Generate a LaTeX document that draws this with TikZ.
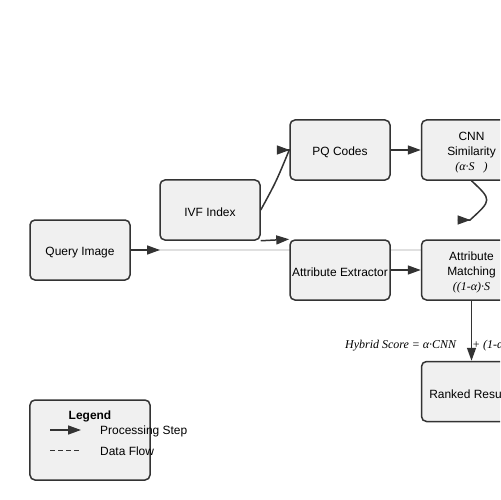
\documentclass[tikz,border=0pt]{standalone}
\usepackage{fontspec}
\setmainfont{Liberation Sans}
\newfontfamily\serifital{Liberation Serif}
\usetikzlibrary{arrows.meta, positioning, backgrounds}
\definecolor{boxgray}{RGB}{240,240,240}
\definecolor{edgegray}{RGB}{51,51,51}
\definecolor{flowgray}{RGB}{224,224,224}
\newcommand{\frm}[1]{{\serifital\itshape #1}}
\newcommand{\tall}{\rule{0pt}{13.5bp}}

\begin{document}
\begin{tikzpicture}[
        x=1bp, y=-1bp,
        node distance=30bp,
        font=\fontsize{12}{15}\selectfont,
        box/.style={rectangle, draw=edgegray, fill=boxgray, line width=1.5bp, rounded corners=5bp, minimum width=100bp, minimum height=60bp, inner xsep=1bp, align=center},
        arr/.style={-{Triangle[length=13bp, width=9bp]}, line width=1.5bp, edgegray},
        plain/.style={anchor=west, inner sep=0pt}
    ]
        \clip (0,0) rectangle (500,500);

        \node[box] (query) at (80,250) {\tall Query Image};
        \node[box] (ivf) at (210,210) {\tall IVF Index};
        \node[box] (pq) at (340,150) {\tall PQ Codes};
        \node[box, right=of pq] (cnn) {\tall CNN\\Similarity\\\frm{(α·S\hspace{9bp})}};
        \node[box] (extract) at (340,270) {\tall Attribute Extractor};
        \node[box, right=of extract] (match) {\tall Attribute\\Matching\\\frm{((1-α)·S}};
        \node[box, below=60bp of match] (ranked) {\tall Ranked Results};

        % data flow under the boxes
        \begin{scope}[on background layer]
            \fill[white] (0,0) rectangle (500,500);
            \draw[flowgray, line width=1.5bp] (query.east) -- (query.east -| match.west);
        \end{scope}

        \coordinate (qtip) at (160,250);
        \coordinate (cnnend) at (470,220);

        \draw[arr] (query.east) -- (qtip);
        \draw[arr] (ivf.east) .. controls (276,182) .. (pq.west) -- ++(0.5,0);
        \draw[arr] (ivf.south east) -- (extract.north west);
        \draw[arr] (pq) -- (cnn);
        \draw[arr] (extract) -- (match);
        \draw[arr] (cnn.south) .. controls (492,200) .. (cnnend) -- ++(0.5,0);
        \draw[arr] (match) -- (ranked);

        \node[plain, font=\serifital\itshape\fontsize{12}{15}\selectfont] (hybrid) at (345,346) {Hybrid Score = α·CNN\hspace{16bp}+ (1-α)·Attr\hspace{16bp}};

        % legend
        \node[box, minimum width=120bp, minimum height=80bp] (legend) at (90,440) {};
        \node[font=\bfseries\fontsize{12}{15}\selectfont] (legtitle) at (90,416) {Legend};
        \coordinate (procA) at (50,430);
        \coordinate (procB) at (81,430);
        \draw[arr] (procA) -- (procB);
        \node[plain] (proctext) at (100,431) {Processing Step};
        \coordinate (flowA) at (50,450);
        \coordinate (flowB) at (80,450);
        \draw[edgegray, line width=1bp, dash pattern=on 5bp off 3bp] (flowA) -- (flowB);
        \node[plain] (flowtext) at (100,451) {Data Flow};
    \end{tikzpicture}
\end{document}
